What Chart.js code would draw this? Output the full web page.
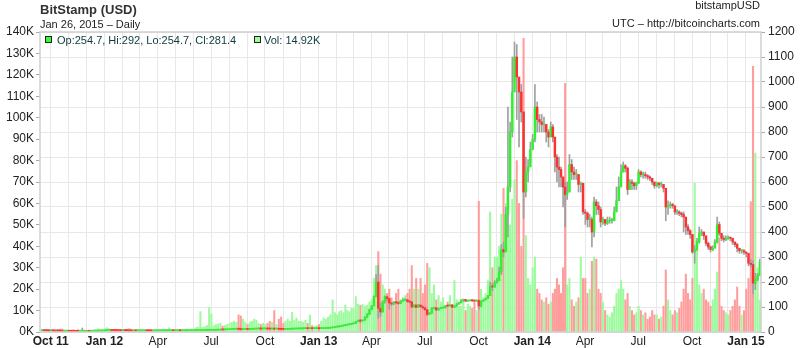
<!DOCTYPE html>
<html>
<head>
<meta charset="utf-8">
<script src="https://cdn.jsdelivr.net/npm/chart.js@4.4.1/dist/chart.umd.min.js"></script>
<style>
  body { margin: 0; background: #fff; }
  #wrap { position: relative; width: 800px; height: 348px; font-family: "Liberation Sans", Arial, sans-serif; }
  #wrap canvas { position: absolute; left: 0; top: 0; }
  .txt { position: absolute; white-space: nowrap; color: #222; font-size: 11px; line-height: 11px; }
  .sq { position: absolute; width: 5px; height: 5px; border: 1px solid #222; }
</style>
</head>
<body>
<div id="wrap">
  <canvas id="chart" width="800" height="348"></canvas>
  <div class="txt" style="left:40px;top:3px;font-size:13px;line-height:13px;font-weight:bold;color:#333">BitStamp (USD)</div>
  <div class="txt" style="left:40px;top:19px">Jan 26, 2015 – Daily</div>
  <div class="txt" style="right:40px;top:0px">bitstampUSD</div>
  <div class="txt" style="right:40px;top:18px">UTC – http://bitcoincharts.com</div>
  <div class="sq" style="left:45px;top:36px;background:#33ff33"></div>
  <div class="txt" style="left:57px;top:35px;color:#0c3c3c">Op:254.7, Hi:292, Lo:254.7, Cl:281.4</div>
  <div class="sq" style="left:254px;top:36px;background:#99ff99"></div>
  <div class="txt" style="left:264px;top:35px;color:#0c3c3c">Vol: 14.92K</div>
</div>
<script>
// 8 slots per month, Sep 2011 .. Jan 2015 (USD)
const closes = [
  null, null, null, null, 5.6, 5.4, 5.2, 4.9,        // 2011-09
  5.0, 4.8, 4.1, 4.0, 3.6, 3.2, 3.2, 3.3,            // 2011-10
  3.1, 3.0, 2.9, 2.6, 2.3, 2.4, 2.5, 2.9,            // 2011-11
  3.0, 2.9, 3.1, 3.2, 3.3, 3.9, 4.0, 4.5,            // 2011-12
  5.4, 6.6, 6.8, 6.4, 6.3, 6.1, 5.8, 5.6,            // 2012-01
  6.0, 5.6, 5.4, 4.6, 4.4, 5.0, 4.9, 4.9,            // 2012-02
  4.9, 5.0, 5.3, 4.9, 4.8, 4.7, 4.7, 4.9,            // 2012-03
  4.9, 4.9, 4.9, 5.0, 5.0, 5.1, 5.1, 5.0,            // 2012-04
  5.0, 5.1, 5.0, 5.0, 5.1, 5.1, 5.1, 5.2,            // 2012-05
  5.2, 5.4, 5.6, 5.7, 6.2, 6.3, 6.4, 6.6,            // 2012-06
  6.7, 6.9, 7.3, 7.6, 8.8, 8.6, 8.9, 9.2,            // 2012-07
  9.5, 10.8, 11.2, 12.5, 11.0, 10.2, 10.3, 10.5,     // 2012-08
  10.4, 11.0, 11.1, 11.7, 12.0, 12.3, 12.2, 12.4,    // 2012-09
  12.5, 12.2, 11.9, 11.9, 11.7, 11.7, 11.0, 10.8,    // 2012-10
  10.7, 10.8, 10.9, 11.2, 11.7, 12.0, 12.3, 12.5,    // 2012-11
  12.8, 13.3, 13.5, 13.4, 13.4, 13.3, 13.4, 13.5,    // 2012-12
  13.4, 13.6, 14.1, 14.3, 15.2, 16.5, 17.6, 19.8,    // 2013-01
  20.5, 21.2, 24.0, 25.8, 27.5, 29.5, 30.5, 33.2,    // 2013-02
  34.5, 41, 46, 44, 47, 59, 70, 89,                  // 2013-03
  104, 142, 200, 95, 80, 120, 141, 134,              // 2013-04
  116, 112, 118, 117, 114, 123, 128, 129,            // 2013-05
  122, 120, 100, 108, 99, 108, 101, 97,              // 2013-06
  89, 70, 76, 95, 97, 88, 94, 96,                    // 2013-07
  97, 105, 104, 108, 99, 104, 112, 117,              // 2013-08
  126, 130, 124, 125, 127, 125, 124, 126,            // 2013-09
  104, 123, 128, 134, 145, 182, 180, 198,            // 2013-10
  205, 240, 330, 320, 470, 580, 800, 960,            // 2013-11
  1100, 1020, 960, 880, 560, 640, 660, 730,          // 2013-12
  770, 900, 850, 840, 830, 830, 800, 780,            // 2014-01
  820, 780, 700, 660, 650, 620, 580, 550,            // 2014-02
  560, 670, 640, 630, 630, 590, 595, 480,            // 2014-03
  475, 450, 450, 400, 520, 505, 490, 440,            // 2014-04
  450, 435, 445, 445, 445, 480, 525, 580,            // 2014-05
  640, 665, 655, 570, 600, 595, 585, 595,            // 2014-06
  640, 630, 630, 625, 620, 615, 600, 585,            // 2014-07
  595, 590, 590, 575, 500, 505, 510, 505,            // 2014-08
  480, 480, 475, 470, 460, 420, 405, 390,            // 2014-09
  320, 330, 360, 395, 400, 385, 355, 340,            // 2014-10
  330, 335, 360, 430, 395, 375, 370, 375,            // 2014-11
  378, 375, 360, 350, 335, 325, 325, 320,            // 2014-12
  315, 275, 270, 195, 210, 225, 281.4                // 2015-01
];

const highs = [
  null, null, null, null, 5.9, 5.8, 5.5, 5.3,
  5.3, 5.1, 4.8, 4.3, 4.1, 3.7, 3.4, 3.5,
  3.4, 3.2, 3.1, 2.9, 2.7, 2.6, 16, 3.0,
  3.2, 3.1, 3.3, 3.4, 3.5, 4.1, 4.2, 4.7,
  5.6, 7.0, 7.2, 7.0, 6.6, 6.5, 6.2, 5.9,
  6.2, 6.1, 5.8, 5.5, 4.8, 5.2, 5.1, 5.0,
  5.0, 5.1, 5.4, 5.3, 5.0, 4.9, 4.8, 5.0,
  5.0, 5.0, 5.0, 5.1, 5.1, 5.2, 5.2, 5.2,
  5.1, 5.2, 5.1, 5.1, 5.2, 5.2, 5.2, 5.3,
  5.3, 5.5, 5.8, 5.9, 6.4, 6.5, 6.6, 6.8,
  6.9, 7.0, 7.6, 7.9, 9.2, 9.0, 9.1, 9.4,
  9.8, 11.0, 11.8, 13.5, 15.5, 10.8, 10.6, 10.9,
  10.7, 11.2, 11.4, 11.9, 12.3, 12.5, 12.4, 12.6,
  12.8, 12.6, 12.2, 12.0, 11.9, 11.9, 11.7, 11.2,
  10.9, 11.0, 11.1, 11.4, 12.0, 12.2, 12.5, 12.7,
  13.0, 13.6, 13.7, 13.6, 13.6, 13.5, 13.5, 13.6,
  13.6, 13.8, 14.4, 14.6, 15.5, 17.0, 18.0, 20.2,
  21.0, 21.8, 24.5, 26.5, 28.0, 30.0, 31.5, 34.0,
  35, 43, 48, 49, 48, 62, 74, 92,
  106, 145, 230, 266, 115, 125, 145, 142,
  135, 120, 122, 121, 120, 126, 133, 133,
  130, 124, 122, 110, 108, 111, 108, 104,
  98, 90, 78, 98, 99, 98, 96, 98,
  100, 106, 107, 110, 108, 106, 114, 120,
  130, 132, 130, 127, 128, 128, 127, 128,
  128, 126, 129, 136, 147, 200, 195, 205,
  215, 260, 350, 360, 500, 900, 840, 1100,
  1160, 1150, 1000, 990, 880, 700, 690, 760,
  790, 990, 920, 870, 870, 860, 830, 810,
  840, 830, 730, 710, 700, 660, 620, 600,
  600, 710, 690, 660, 650, 630, 600, 590,
  490, 480, 470, 460, 540, 530, 520, 500,
  460, 450, 460, 460, 455, 500, 580, 620,
  670, 680, 670, 660, 610, 610, 600, 600,
  650, 645, 640, 640, 630, 625, 615, 600,
  600, 600, 600, 590, 560, 525, 520, 515,
  490, 490, 485, 480, 480, 450, 430, 410,
  390, 345, 375, 420, 410, 400, 370, 360,
  345, 345, 370, 460, 440, 390, 385, 385,
  385, 380, 375, 360, 355, 335, 330, 330,
  320, 300, 290, 285, 235, 235, 292
];

const lows = [
  null, null, null, null, 5.2, 5.1, 4.9, 4.6,
  4.7, 4.5, 3.9, 3.8, 3.3, 2.9, 3.0, 3.1,
  2.9, 2.8, 2.7, 2.4, 2.0, 2.2, 2.3, 2.5,
  2.8, 2.8, 2.9, 3.0, 3.1, 3.3, 3.8, 3.9,
  4.6, 5.3, 6.3, 6.1, 6.0, 5.8, 5.5, 5.3,
  5.5, 5.4, 5.1, 4.2, 4.2, 4.4, 4.7, 4.7,
  4.7, 4.8, 4.9, 4.8, 4.7, 4.6, 4.6, 4.7,
  4.8, 4.8, 4.8, 4.9, 4.9, 5.0, 5.0, 4.9,
  4.9, 5.0, 4.9, 4.9, 5.0, 5.0, 5.0, 5.1,
  5.1, 5.2, 5.4, 5.5, 5.7, 6.1, 6.2, 6.3,
  6.5, 6.6, 6.9, 7.2, 7.5, 8.3, 8.5, 8.8,
  9.2, 9.4, 10.6, 11.2, 8.0, 9.5, 10.0, 10.2,
  10.1, 10.4, 10.8, 11.1, 11.7, 12.0, 12.0, 12.1,
  12.2, 12.0, 11.7, 11.7, 11.4, 11.5, 10.7, 10.5,
  10.5, 10.6, 10.7, 10.9, 11.2, 11.7, 12.0, 12.2,
  12.5, 12.8, 13.2, 13.2, 13.1, 13.1, 13.2, 13.3,
  13.2, 13.3, 13.6, 14.0, 14.3, 15.2, 16.4, 17.5,
  19.5, 20.2, 21.0, 23.5, 25.5, 27.0, 29.0, 30.0,
  32, 34, 41, 37, 44, 47, 58, 70,
  93, 105, 140, 55, 62, 80, 115, 125,
  90, 105, 110, 113, 110, 113, 122, 125,
  118, 115, 98, 99, 97, 99, 100, 93,
  86, 65, 70, 74, 92, 86, 87, 93,
  94, 96, 102, 103, 98, 98, 103, 110,
  116, 122, 121, 122, 124, 122, 122, 122,
  90, 100, 122, 128, 134, 145, 165, 178,
  195, 205, 230, 300, 380, 380, 560, 780,
  1000, 850, 740, 840, 455, 540, 600, 680,
  730, 760, 800, 800, 800, 800, 760, 740,
  790, 760, 640, 600, 580, 580, 500, 420,
  530, 560, 610, 610, 610, 560, 560, 470,
  430, 420, 420, 340, 380, 470, 470, 420,
  430, 425, 430, 435, 435, 445, 490, 550,
  610, 640, 640, 550, 570, 570, 570, 570,
  595, 620, 615, 615, 610, 605, 590, 575,
  580, 575, 580, 560, 445, 470, 495, 495,
  470, 470, 465, 460, 400, 390, 390, 375,
  315, 275, 325, 355, 385, 370, 345, 330,
  320, 325, 340, 355, 385, 365, 360, 365,
  370, 365, 350, 340, 320, 315, 315, 310,
  300, 265, 260, 152, 170, 205, 254.7
];

// thousands of BTC
const volumes = [
  null, null, null, null, 0.6, 0.9, 1.0, 0.8,
  1.2, 1.0, 0.8, 1.1, 1.3, 1.4, 0.9, 1.0,
  0.7, 0.9, 1.0, 0.8, 1.1, 0.9, 1.3, 1.0,
  0.8, 0.7, 0.9, 1.0, 1.2, 1.5, 1.3, 1.1,
  1.5, 2.0, 1.6, 1.2, 1.1, 1.0, 0.9, 0.8,
  0.9, 1.0, 1.3, 1.6, 1.2, 0.9, 0.8, 0.7,
  0.8, 0.9, 0.7, 0.8, 0.9, 0.7, 0.8, 0.6,
  0.7, 0.8, 1.0, 1.2, 1.1, 2.0, 1.0, 0.9,
  1.0, 1.2, 1.1, 0.9, 1.0, 1.3, 1.2, 1.4,
  1.5, 2.0, 2.4, 9.5, 2.2, 2.5, 3.0, 11.5,
  8.4, 3.0, 3.5, 3.7, 4.0, 2.8, 3.0, 3.5,
  4.0, 4.5, 5.0, 4.5, 8.0, 7.5, 6.0, 4.5,
  3.5, 4.5, 5.0, 6.0, 5.5, 4.0, 3.5, 4.0,
  3.5, 4.0, 5.0, 4.5, 10.0, 3.5, 6.0, 7.0,
  4.0, 5.0, 6.0, 5.0, 9.2, 5.5, 6.5, 5.0,
  5.0, 4.5, 5.5, 4.0, 7.9, 3.0, 2.5, 3.0,
  3.5, 5.0, 6.5, 6.0, 7.0, 8.0, 15.0, 9.0,
  8.0, 9.5, 10.0, 9.0, 12.6, 10.0, 9.5, 11.0,
  11.0, 16.5, 13.0, 12.5, 13.0, 12.0, 12.5, 14.0,
  15, 25, 31, 37.5, 27, 22, 20, 18,
  20, 16, 14, 18, 20, 15, 16, 17,
  18, 20, 31, 20, 25, 20, 25, 18,
  22, 32, 30, 18, 22, 15, 17, 14,
  16, 12, 14, 17, 13, 24, 15, 12,
  12, 14, 10, 13, 12, 11, 14, 10,
  61, 20, 16, 18, 24, 56, 30, 35,
  35, 40, 55, 67, 60, 64, 50, 62,
  71, 80, 60, 40, 137, 45, 25, 22,
  30, 35, 20, 18, 15, 14, 16, 13,
  14, 18, 20, 25, 22, 18, 30, 116,
  22, 25, 15, 12, 14, 16, 35, 25,
  25, 18, 20, 33, 35, 34, 20, 18,
  14, 10, 8, 7, 9, 12, 18, 20,
  24, 20, 15, 18, 12, 10, 8, 9,
  12, 10, 8, 9, 6, 7, 10, 8,
  8, 6, 7, 12, 29, 15, 10, 8,
  10, 9, 11, 14, 20, 27, 18, 15,
  25, 69.5, 40, 22, 18, 20, 15, 14,
  12, 15, 20, 28, 44, 12, 10, 9,
  8, 10, 12, 15, 21, 12, 8, 10,
  20, 25, 60.8, 124, 83.5, 30, 14.92
];

const monthNames = ["Jan", "Feb", "Mar", "Apr", "May", "Jun", "Jul", "Aug", "Sep", "Oct", "Nov", "Dec"];

const UP = "#2ef22e";
const DOWN = "#ff3030";
const VOL_UP = "#9cfb9c";
const VOL_DOWN = "#ff9c9c";
const GRID = "#e8e8e8";
const FONT = "'Liberation Sans', Arial, sans-serif";

const ORIGIN = Date.UTC(2011, 9, 1);
const dayOf = (y, m, d) => (Date.UTC(y, m, d) - ORIGIN) / 864e5;

// months covered by the slots, and month starts for the x grid
const slotMonths = [];
for (let y = 2011, m = 8; y < 2015 || (y === 2015 && m === 0); ) {
  slotMonths.push([y, m]);
  m++;
  if (m > 11) { m = 0; y++; }
}
const monthTicks = [];
const tickLabels = {};
let firstLabel = true;
slotMonths.forEach(([y, m]) => {
  const v = dayOf(y, m, 1);
  if (v < -18) return;
  monthTicks.push(v);
  if (m % 3 === 0) {
    const yy = String(y).slice(2);
    const bold = m === 0 || firstLabel;
    tickLabels[v] = { text: bold ? monthNames[m] + " " + yy : monthNames[m], bold: bold };
    firstLabel = false;
  }
});

function slotDay(i) {
  const [y, m] = slotMonths[Math.floor(i / 8)];
  const len = new Date(Date.UTC(y, m + 1, 0)).getUTCDate();
  return dayOf(y, m, 1) + (i % 8) * len / 8 + 0.5;
}

const volPts = [], wickPts = [], bodyPts = [], upFlags = [];
let prevClose = null;
closes.forEach((c, i) => {
  if (c == null) return;
  const open = prevClose == null ? c : prevClose;
  const x = slotDay(i);
  volPts.push({ x: x, y: volumes[i] });
  wickPts.push({ x: x, y: [lows[i], highs[i]] });
  bodyPts.push({ x: x, y: [open, c] });
  upFlags.push(c >= open);
  prevClose = c;
});

const frame = {
  id: "frame",
  afterDraw(chart) {
    const a = chart.chartArea, ctx = chart.ctx;
    ctx.save();
    ctx.strokeStyle = "#cfcfcf";
    ctx.lineWidth = 1.5;
    ctx.strokeRect(a.left, a.top, a.right - a.left, a.bottom - a.top);
    ctx.restore();
  }
};

new Chart(document.getElementById("chart"), {
  type: "bar",
  data: {
    datasets: [
      {
        label: "Vol",
        data: volPts,
        yAxisID: "yVol",
        backgroundColor: upFlags.map((u) => (u ? VOL_UP : VOL_DOWN)),
        barThickness: 1.4,
        grouped: false,
        order: 3,
      },
      {
        label: "Range",
        data: wickPts,
        yAxisID: "yPrice",
        backgroundColor: "#a0a0a0",
        barThickness: 1,
        minBarLength: 1,
        grouped: false,
        order: 2,
      },
      {
        label: "Price",
        data: bodyPts,
        yAxisID: "yPrice",
        backgroundColor: upFlags.map((u) => (u ? UP : DOWN)),
        barThickness: 1.8,
        minBarLength: 1,
        grouped: false,
        order: 1,
      },
    ],
  },
  options: {
    responsive: false,
    animation: false,
    devicePixelRatio: 1,
    layout: { padding: { top: 32, left: 0, right: 0, bottom: 0 } },
    plugins: { legend: { display: false }, tooltip: { enabled: false } },
    scales: {
      x: {
        type: "linear",
        min: -18.3,
        max: 1213.7,
        offset: false,
        grid: { color: GRID, offset: false, drawTicks: false },
        border: { display: false },
        afterBuildTicks: (s) => { s.ticks = monthTicks.map((v) => ({ value: v })); },
        afterFit: (s) => { s.height = 16; },
        ticks: {
          autoSkip: false,
          maxRotation: 0,
          padding: 2,
          color: "#222",
          callback: (v) => (tickLabels[v] ? tickLabels[v].text : ""),
          font: (ctx) => ({
            family: FONT,
            size: 12,
            weight: ctx.tick && tickLabels[ctx.tick.value] && tickLabels[ctx.tick.value].bold ? "bold" : "normal",
          }),
        },
      },
      yVol: {
        position: "left",
        min: 0,
        max: 140,
        grid: { drawOnChartArea: false, tickLength: 4, color: "#aaa" },
        border: { display: false },
        afterFit: (s) => { s.width = 40; },
        ticks: { stepSize: 10, padding: 2, color: "#222", font: { family: FONT, size: 12 }, callback: (v) => v + "K" },
      },
      yPrice: {
        position: "right",
        min: 0,
        max: 1200,
        grid: { color: GRID, tickLength: 4, tickColor: "#aaa" },
        border: { display: false },
        afterFit: (s) => { s.width = 39; },
        ticks: { stepSize: 100, padding: 3, color: "#222", font: { family: FONT, size: 12 }, callback: (v) => String(v) },
      },
    },
  },
  plugins: [frame],
});
</script>
</body>
</html>
